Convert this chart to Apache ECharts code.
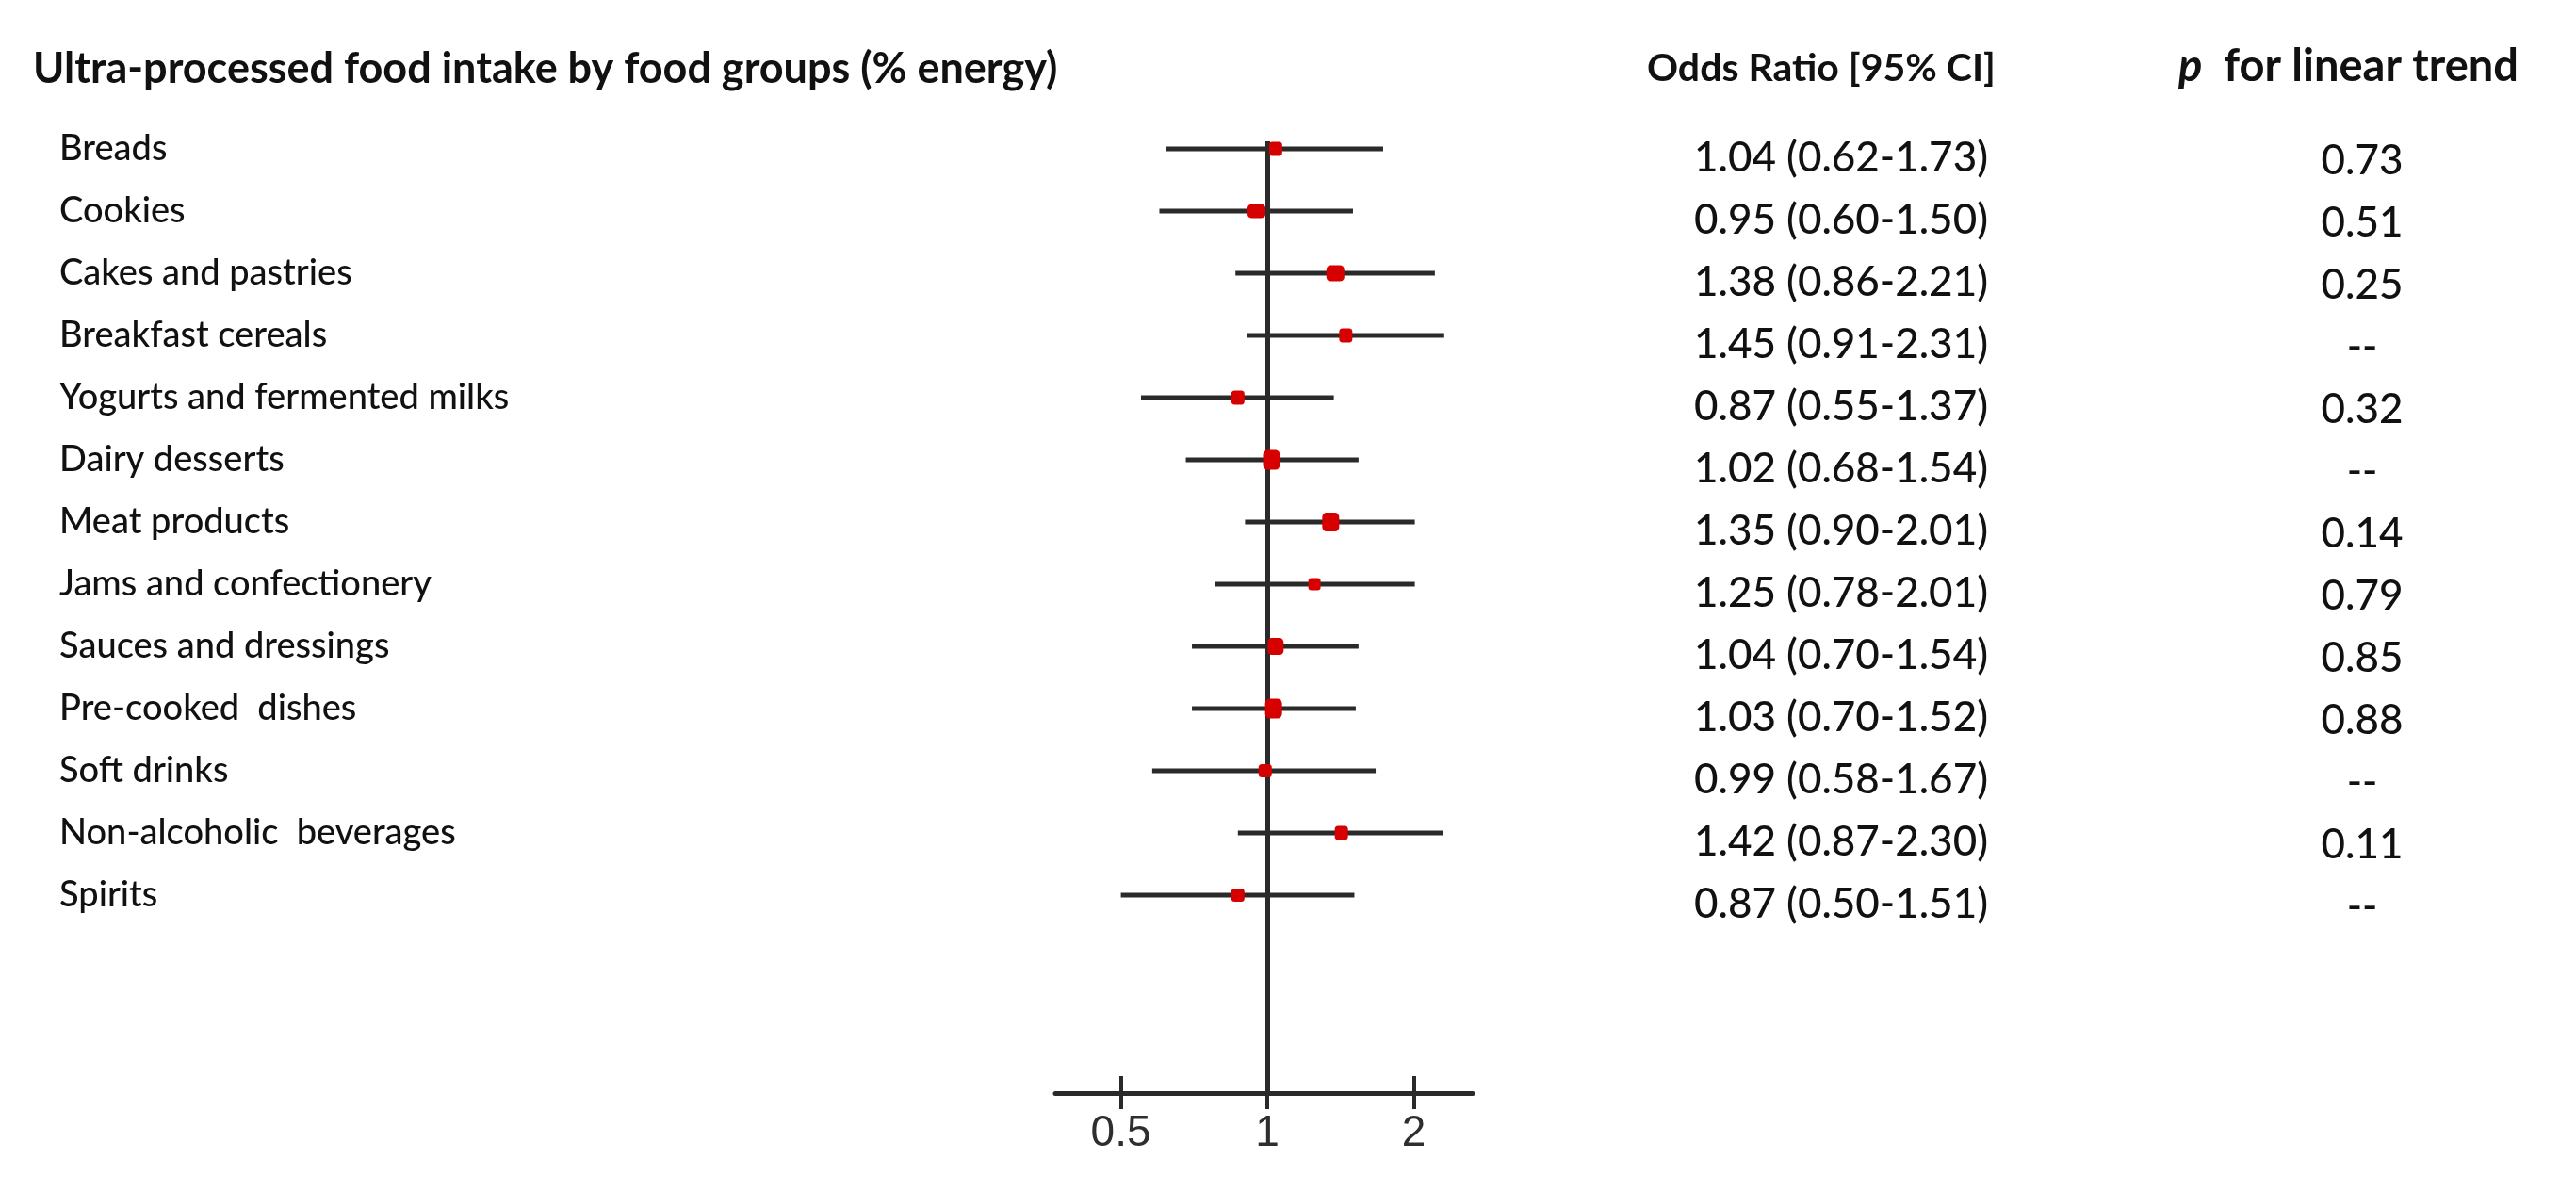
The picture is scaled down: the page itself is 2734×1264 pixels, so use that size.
<!DOCTYPE html>
<html>
<head>
<meta charset="utf-8">
<script src="https://cdn.jsdelivr.net/npm/echarts@6/dist/echarts.min.js"></script>
<style>
html,body{margin:0;padding:0;background:#ffffff;}
#chart{width:2734px;height:1264px;}
</style>
</head>
<body>
<div id="chart"></div>
<script>
// ---------------- DATA ----------------
const categories = [
  'Breads',
  'Cookies',
  'Cakes and pastries',
  'Breakfast cereals',
  'Yogurts and fermented milks',
  'Dairy desserts',
  'Meat products',
  'Jams and confectionery',
  'Sauces and dressings',
  'Pre-cooked  dishes',
  'Soft drinks',
  'Non-alcoholic  beverages',
  'Spirits'
];
const oddsRatio = [1.04, 0.95, 1.38, 1.45, 0.87, 1.02, 1.35, 1.25, 1.04, 1.03, 0.99, 1.42, 0.87];
const ciLower   = [0.62, 0.60, 0.86, 0.91, 0.55, 0.68, 0.90, 0.78, 0.70, 0.70, 0.58, 0.87, 0.50];
const ciUpper   = [1.73, 1.50, 2.21, 2.31, 1.37, 1.54, 2.01, 2.01, 1.54, 1.52, 1.67, 2.30, 1.51];
const pTrend    = ['0.73', '0.51', '0.25', '--', '0.32', '--', '0.14', '0.79', '0.85', '0.88', '--', '0.11', '--'];
const xTickValues = [0.5, 1, 2];
const titleText = 'Ultra-processed food intake by food groups (% energy)';
const orHeader = 'Odds Ratio [95% CI]';
const pHeader = 'for linear trend';

// ---------------- STYLE ----------------
const FONT = 'Lato, "Open Sans", sans-serif';
const INK = '#111111';
const LINE = '#2a2a2a';
const RED = '#d60000';
// marker box sizes [w, h] in px (visual weight of each estimate)
const markerSizes = [[14,15],[19,15],[19,17],[14,15],[14,15],[18,21],[18,20],[13,13],[17,18],[18,21],[14,14],[14,15],[14,14]];

const X_MIN = 0.3666, X_MAX = 2.643;
const Y_MIN = -0.273, Y_MAX = 15.03;
const rowIndex = categories.map((_, i) => i);

function fmt2(v) { return v.toFixed(2); }

// shift: vertical nudge of a text column, in row units (positive = up)
function textAxis(position, formatter, shift, labelOpts) {
  return {
    type: 'value',
    inverse: true,
    min: Y_MIN + shift,
    max: Y_MAX + shift,
    position: position,
    axisLine: { show: false },
    axisTick: { show: false },
    splitLine: { show: false },
    axisLabel: Object.assign({
      customValues: rowIndex,
      formatter: function (v) { return formatter(Math.round(v)); },
      fontFamily: FONT,
      color: INK,
      verticalAlign: 'middle'
    }, labelOpts)
  };
}

const chart = echarts.init(document.getElementById('chart'), null, { renderer: 'canvas' });

const option = {
  animation: false,
  backgroundColor: '#ffffff',
  title: [
    {
      text: titleText, left: 35, top: 51, padding: 0,
      textStyle: { fontFamily: FONT, fontWeight: 'bold', fontSize: 45, color: INK }
    },
    {
      text: orHeader, left: 1748, top: 52, padding: 0,
      textStyle: { fontFamily: FONT, fontWeight: 'bold', fontSize: 41, color: INK }
    },
    {
      text: '{i|p}  {b|' + pHeader + '}', left: 2312, top: 47, padding: 0,
      textStyle: {
        fontFamily: FONT, fontWeight: 'bold', fontSize: 47, color: INK,
        rich: {
          i: { fontFamily: FONT, fontWeight: 'bold', fontStyle: 'italic', fontSize: 47, color: INK },
          b: { fontFamily: FONT, fontWeight: 'bold', fontSize: 47, color: INK }
        }
      }
    }
  ],
  grid: { left: 1120, right: 2734 - 1563, top: 150, bottom: 1264 - 1160, containLabel: false },
  xAxis: [
    {
      type: 'log', logBase: 2, min: X_MIN, max: X_MAX, position: 'bottom',
      axisLine: { show: true, onZero: false, lineStyle: { color: LINE, width: 5 } },
      axisTick: { show: true, customValues: xTickValues, inside: false, length: 17, lineStyle: { color: LINE, width: 4 } },
      axisLabel: {
        customValues: xTickValues,
        formatter: function (v) { return String(v); },
        fontFamily: '"Liberation Sans", Arial, sans-serif', fontSize: 46, color: '#2e2e2e', margin: 20
      },
      splitLine: { show: false }
    },
    {
      type: 'log', logBase: 2, min: X_MIN, max: X_MAX, position: 'bottom',
      axisLine: { show: false, onZero: false },
      axisTick: { show: true, customValues: xTickValues, inside: true, length: 18, lineStyle: { color: LINE, width: 4 } },
      axisLabel: { show: false },
      splitLine: { show: false }
    }
  ],
  yAxis: [
    textAxis('left', function (i) { return categories[i]; }, 0.15,
      { align: 'left', margin: 1120 - 63, fontSize: 38, fontWeight: 500 }),
    textAxis('right', function (i) { return fmt2(oddsRatio[i]) + ' (' + fmt2(ciLower[i]) + '-' + fmt2(ciUpper[i]) + ')'; }, 0,
      { align: 'left', margin: 1798 - 1563, fontSize: 44, fontWeight: 500 }),
    textAxis('right', function (i) { return pTrend[i]; }, -0.045,
      { align: 'center', margin: 2516 - 1563 - 9, fontSize: 44, fontWeight: 500 })
  ],
  series: [
    {
      type: 'custom',
      xAxisIndex: 0, yAxisIndex: 0,
      data: rowIndex.map(function (i) { return [ciLower[i], ciUpper[i], i]; }),
      encode: { x: [0, 1], y: 2 },
      renderItem: function (params, api) {
        const a = api.coord([api.value(0), api.value(2)]);
        const b = api.coord([api.value(1), api.value(2)]);
        return {
          type: 'line',
          shape: { x1: a[0], y1: a[1], x2: b[0], y2: b[1] },
          style: { stroke: LINE, lineWidth: 5 }
        };
      },
      z: 2,
      silent: true
    },
    {
      type: 'scatter',
      xAxisIndex: 0, yAxisIndex: 0,
      symbol: 'roundRect',
      data: rowIndex.map(function (i) { return { value: [oddsRatio[i], i], symbolSize: markerSizes[i] }; }),
      itemStyle: { color: RED, opacity: 1 },
      z: 5,
      silent: true,
      markLine: {
        silent: true,
        symbol: ['none', 'none'],
        label: { show: false },
        lineStyle: { color: LINE, width: 5, type: 'solid' },
        data: [{ xAxis: 1 }],
        z: 1
      }
    }
  ]
};

chart.setOption(option);
</script>
</body>
</html>
